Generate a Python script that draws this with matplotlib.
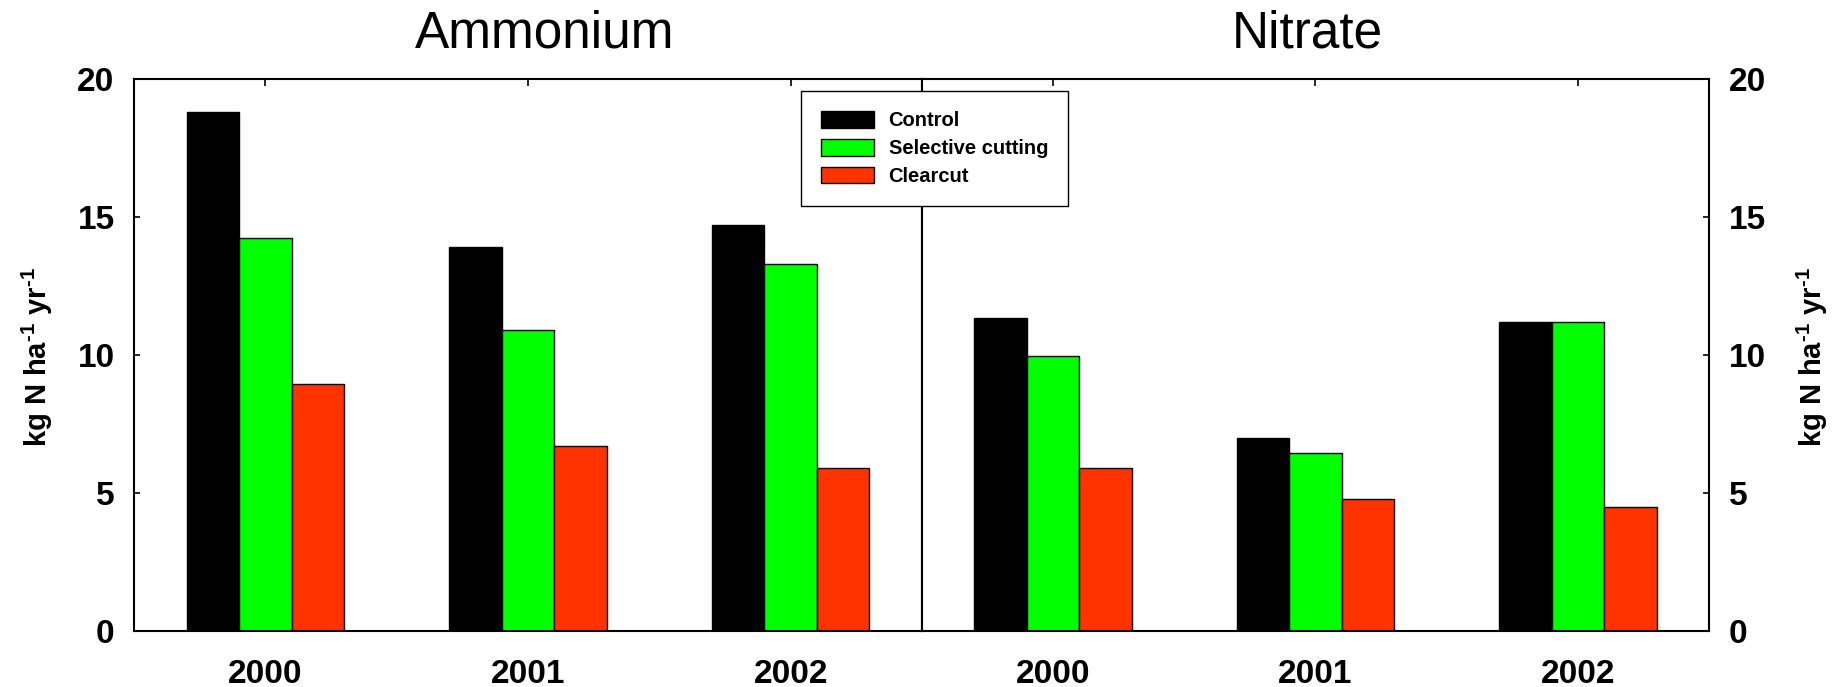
import matplotlib
matplotlib.use("Agg")
import matplotlib.pyplot as plt
import numpy as np
from matplotlib.patches import Patch

plt.rcParams['font.family'] = ['Liberation Sans', 'DejaVu Sans']
plt.rcParams['mathtext.fontset'] = 'custom'
plt.rcParams['mathtext.bf'] = 'Liberation Sans:bold'
plt.rcParams['mathtext.rm'] = 'Liberation Sans:bold'
plt.rcParams['mathtext.default'] = 'bf'

years = ["2000", "2001", "2002"]
treatments = ["Control", "Selective cutting", "Clearcut"]
colors = ["#000000", "#00ff00", "#ff3300"]

ammonium = {
    "Control": [18.8, 13.9, 14.7],
    "Selective cutting": [14.25, 10.9, 13.3],
    "Clearcut": [8.95, 6.7, 5.9],
}
nitrate = {
    "Control": [11.35, 7.0, 11.2],
    "Selective cutting": [9.95, 6.45, 11.2],
    "Clearcut": [5.9, 4.8, 4.5],
}

W, H = 1841, 687
fig = plt.figure(figsize=(W / 100, H / 100), dpi=100)
ax_l = fig.add_axes([134 / W, 56 / H, 788 / W, 552 / H])
ax_r = fig.add_axes([922 / W, 56 / H, 787 / W, 552 / H])

x = np.arange(len(years))
bw = 0.2
for ax, data in [(ax_l, ammonium), (ax_r, nitrate)]:
    for i, t in enumerate(treatments):
        ax.bar(x + (i - 1) * bw, data[t], bw, color=colors[i],
               edgecolor="black", linewidth=1.0, zorder=2)
    ax.set_xlim(-0.5, 2.5)
    ax.set_ylim(0, 20)
    ax.set_yticks([0, 5, 10, 15, 20])
    ax.set_xticks(x)
    ax.set_xticklabels(years, fontsize=24, fontweight="bold")
    ax.tick_params(axis="x", direction="in", length=5, width=1.2,
                   top=True, bottom=True, pad=20)
    for s in ax.spines.values():
        s.set_linewidth(1.5)

ax_l.tick_params(axis="y", direction="in", length=4.5, width=1.2,
                 left=True, right=False, labelsize=24, pad=14)
ax_r.tick_params(axis="y", direction="in", length=4.5, width=1.2,
                 left=False, right=True, labelleft=False, labelright=True,
                 labelsize=24, pad=14)
for ax in (ax_l, ax_r):
    for lab in ax.get_yticklabels():
        lab.set_fontweight("bold")

fig.text(545 / W, 1 - 47 / H, "Ammonium", fontsize=37, ha="center", va="baseline")
fig.text(1307 / W, 1 - 47 / H, "Nitrate", fontsize=37, ha="center", va="baseline")

ylab = r"kg N ha$^{\text{-1}}$ yr$^{\text{-1}}$"
fig.text(37 / W, 1 - 357 / H, ylab, rotation=90, fontsize=21,
         fontweight="bold", ha="center", va="center")
fig.text(1812 / W, 1 - 357 / H, ylab, rotation=90, fontsize=21,
         fontweight="bold", ha="center", va="center")

handles = [Patch(facecolor=c, edgecolor="black", linewidth=1.0) for c in colors]
leg = fig.legend(handles, treatments, loc="upper left",
                 bbox_to_anchor=(801 / W, 1 - 91 / H), bbox_transform=fig.transFigure,
                 prop={"family": "Liberation Sans", "weight": "bold", "size": 14.5},
                 handlelength=2.6, handleheight=0.9, labelspacing=0.42,
                 borderpad=1.0, handletextpad=0.75, borderaxespad=0,
                 fancybox=False, framealpha=1)
leg.get_frame().set_edgecolor("black")
leg.get_frame().set_linewidth(1.0)

fig.savefig("out.png", dpi=100, facecolor="white")
